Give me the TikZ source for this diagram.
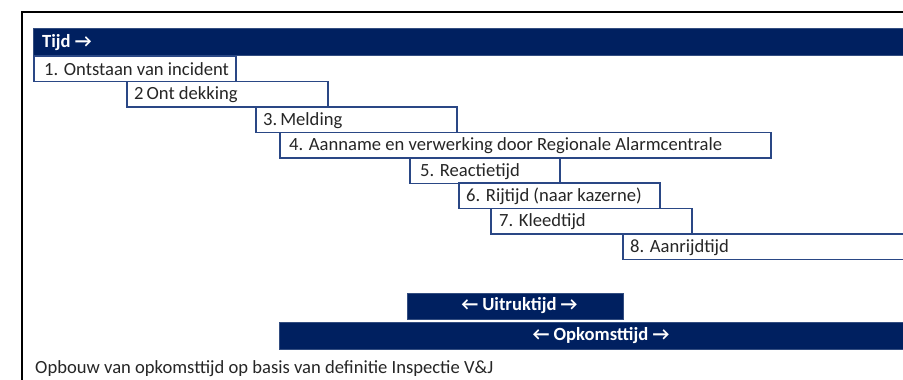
\documentclass[tikz,border=0pt]{standalone}
\usepackage{fontspec}
\setmainfont{Carlito}
\usetikzlibrary{calc}
\definecolor{navy}{HTML}{002060}
\definecolor{boxline}{HTML}{2A4785}
\definecolor{txt}{HTML}{262626}
\tikzset{
  stepbox/.style={draw=boxline, line width=1.8pt, fill=white, anchor=north west, inner sep=0pt, minimum height=25.5pt},
  bar/.style={fill=navy, draw=navy!80!white, line width=0.8pt, anchor=north west, inner sep=0pt},
  lbl/.style={anchor=west, inner sep=0pt, text=txt, font=\fontsize{18.6}{21}\selectfont},
  barlbl/.style={inner sep=0pt, text=white, font=\fontsize{18.6}{21}\selectfont\bfseries},
}
\begin{document}
\begin{tikzpicture}[x=1pt,y=-1pt]
\useasboundingbox (0,0) rectangle (903,380);
\clip (0,0) rectangle (903,380);
\fill[white] (0,0) rectangle (903,380);
% frame
\coordinate (fbl) at (22,381);
\coordinate (ftl) at (22,12);
\coordinate (ftr) at (904,12);
\draw[line width=1.5pt, black] (fbl) -- (ftl) -- (ftr);
% time bar
\node[bar, minimum width=880pt, minimum height=27pt] (tijd) at (33,28) {};
\node[barlbl, anchor=west] (tijdl) at ($(tijd.west)+(9,0.5)$) {Tijd →};
% steps
\node[stepbox, minimum width=202pt] (b1) at (33,55) {};
\node[lbl] (l1) at ($(b1.west)+(11,0.5)$) {1. Ontstaan van incident};
\node[stepbox, minimum width=201pt] (b2) at (126,80.5) {};
\node[lbl] (l2) at ($(b2.west)+(8,0.5)$) {2\kern3pt Ont dekking};
\node[stepbox, minimum width=201pt] (b3) at (255,106) {};
\node[lbl] (l3) at ($(b3.west)+(8,0.5)$) {3.\kern3pt Melding};
\node[stepbox, minimum width=491pt] (b4) at (279,131.5) {};
\node[lbl] (l4) at ($(b4.west)+(10,0.5)$) {4. Aanname en verwerking door Regionale Alarmcentrale};
\node[stepbox, minimum width=150pt] (b5) at (409,157) {};
\node[lbl] (l5) at ($(b5.west)+(11,0.5)$) {5. Reactietijd};
\node[stepbox, minimum width=201pt] (b6) at (458,182) {};
\node[lbl] (l6) at ($(b6.west)+(8,0.5)$) {6. Rijtijd (naar kazerne)};
\node[stepbox, minimum width=201pt] (b7) at (490,207.5) {};
\node[lbl] (l7) at ($(b7.west)+(9,0.5)$) {7. Kleedtijd};
\node[stepbox, minimum width=300pt] (b8) at (622,233) {};
\node[lbl] (l8) at ($(b8.west)+(8,0.5)$) {8. Aanrijdtijd};
% bottom bars
\node[bar, minimum width=216pt, minimum height=26pt] (uit) at (407,292.5) {};
\node[barlbl] (uitl) at ($(uit.center)+(4,0)$) {← Uitruktijd →};
\node[bar, minimum width=630pt, minimum height=27pt] (opk) at (279,322) {};
\node[barlbl] (opkl) at (601,335.5) {← Opkomsttijd →};
% caption
\node[lbl, anchor=base west] (cap) at (35,373) {Opbouw van opkomsttijd op basis van definitie Inspectie V\&J};
\end{tikzpicture}
\end{document}
